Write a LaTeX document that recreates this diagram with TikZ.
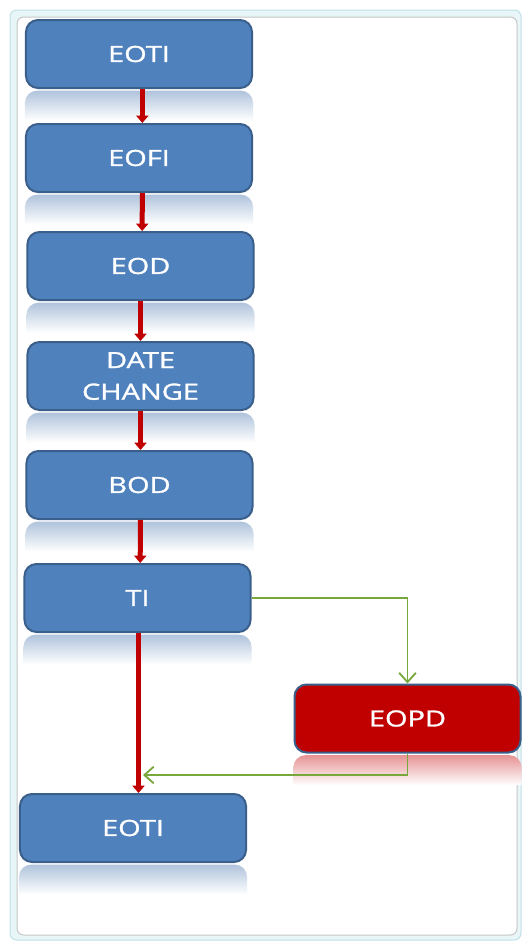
\documentclass[tikz,border=0pt]{standalone}
\usepackage{fontspec}
\setmainfont{Open Sans}[FakeStretch=1.3,FakeBold=1.3]
\usepackage{xcolor}
\usepackage{tikz}
\usetikzlibrary{arrows.meta,positioning}
\definecolor{boxblue}{HTML}{4F81BD}
\definecolor{boxedge}{HTML}{3A5F8B}
\definecolor{boxred}{HTML}{C00000}
\definecolor{rededge}{HTML}{3A5F8B}
\definecolor{refblue}{HTML}{B0C3DC}
\definecolor{refred}{HTML}{E69393}
\definecolor{linkgreen}{HTML}{78A83C}
\definecolor{framecyan}{HTML}{BFE0E6}
\definecolor{framefill}{HTML}{E9F6F8}
\tikzset{
  stage/.style={rectangle, rounded corners=3.6mm, draw=boxedge, line width=0.6mm, fill=boxblue,
    minimum width=67.8mm, minimum height=20.4mm, inner sep=0pt, text=white, align=center,
    font=\fontsize{19}{27}\selectfont},
  stagered/.style={stage, fill=boxred, draw=rededge},
  flow/.style={draw=boxred, line width=1.5mm, -{Triangle[width=3.6mm,length=2.2mm]}},
  branch/.style={draw=linkgreen, line width=0.55mm, -{Straight Barb[width=5mm,length=2.8mm]}}
}
\begin{document}
\begin{tikzpicture}[x=0.3mm,y=-0.3mm]
    \useasboundingbox (0,0) rectangle (523,942);
    \draw[rounded corners=2mm, draw=framecyan, fill=framefill, line width=0.3mm] (10,10) rectangle (521,940);
    \draw[rounded corners=2mm, draw=gray!45, fill=white, line width=0.3mm] (17,17) rectangle (517,935);
    \node[stage] (eotiA) at (139,54) {EOTI};
    \node[stage] (eofi) at (139,158) {EOFI};
    \node[stage] (eod) at (140.5,266) {EOD};
    \node[stage] (datechange) at (140.5,376) {DATE\\CHANGE};
    \node[stage] (bod) at (139.5,485) {BOD};
    \node[stage] (ti) at (137.5,598) {TI};
    \node[stagered] (eopd) at (407.5,718.5) {EOPD};
    \node[stage] (eotiB) at (133,828) {EOTI};
    \foreach \n in {eotiA,eofi,eod,datechange,bod,ti,eotiB}
      \shade[top color=refblue, bottom color=white]
        ([yshift=-0.5mm]\n.south west) ++(0,30) [rounded corners=3.6mm] -- ([yshift=-0.5mm]\n.south west)
        -- ([yshift=-0.5mm]\n.south east) [sharp corners] -- ++(0,30) -- cycle;
    \shade[top color=refred, bottom color=white]
      ([yshift=-0.5mm]eopd.south west) ++(0,30) [rounded corners=3.6mm] -- ([yshift=-0.5mm]eopd.south west)
      -- ([yshift=-0.5mm]eopd.south east) [sharp corners] -- ++(0,30) -- cycle;
    \draw[flow] ([xshift=1mm]eotiA.south) -- ([xshift=1mm]eofi.north);
    \draw[flow] ([xshift=1mm]eofi.south) -- ([xshift=0.5mm]eod.north);
    \draw[flow] (eod.south) -- (datechange.north);
    \draw[flow] (datechange.south) -- ([xshift=0.3mm]bod.north);
    \draw[flow] ([xshift=0.3mm]bod.south) -- ([xshift=0.8mm]ti.north);
    \draw[flow] ([xshift=0.3mm]ti.south) -- ([xshift=0.3mm]ti.south |- eotiB.north);
    \coordinate (back) at (143,775);
    \draw[branch] (ti.east) -| (eopd.north);
    \draw[branch] (eopd.south) |- (back);
\end{tikzpicture}
\end{document}
